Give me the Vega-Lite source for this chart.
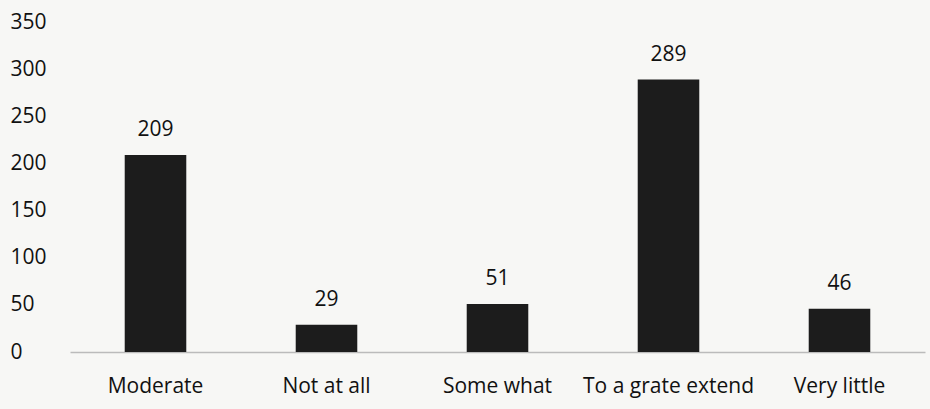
{
  "$schema": "https://vega.github.io/schema/vega-lite/v6.json",
  "width": 855,
  "height": 330,
  "autosize": {"type": "none"},
  "padding": {"left": 70, "top": 22, "right": 5, "bottom": 57},
  "background": "#f7f7f5",
  "config": {"view": {"stroke": null}, "font": "Open Sans"},
  "data": {"values": [
    {"category": "Moderate", "count": 209},
    {"category": "Not at all", "count": 29},
    {"category": "Some what", "count": 51},
    {"category": "To a grate extend", "count": 289},
    {"category": "Very little", "count": 46}
  ]},
  "encoding": {
    "x": {"field": "category", "type": "nominal", "sort": null,
      "scale": {"paddingInner": 0.64, "paddingOuter": 0.32},
      "axis": {"title": null, "labelAngle": 0, "ticks": false, "domainColor": "#bbbbbb", "domainWidth": 1.5,
        "labelFontSize": 21, "labelColor": "#111111", "labelPadding": 23}},
    "y": {"field": "count", "type": "quantitative",
      "scale": {"domain": [0, 350]},
      "axis": {"title": null, "values": [0, 50, 100, 150, 200, 250, 300, 350], "grid": false, "domain": false, "ticks": false,
        "labelAlign": "left", "labelPadding": 60, "labelFontSize": 21, "labelColor": "#111111"}}
  },
  "layer": [
    {"mark": {"type": "bar", "color": "#1c1c1c"}},
    {"mark": {"type": "text", "baseline": "alphabetic", "dy": -19, "fontSize": 21, "color": "#111111"},
      "encoding": {"text": {"field": "count", "type": "quantitative"}}}
  ]
}
